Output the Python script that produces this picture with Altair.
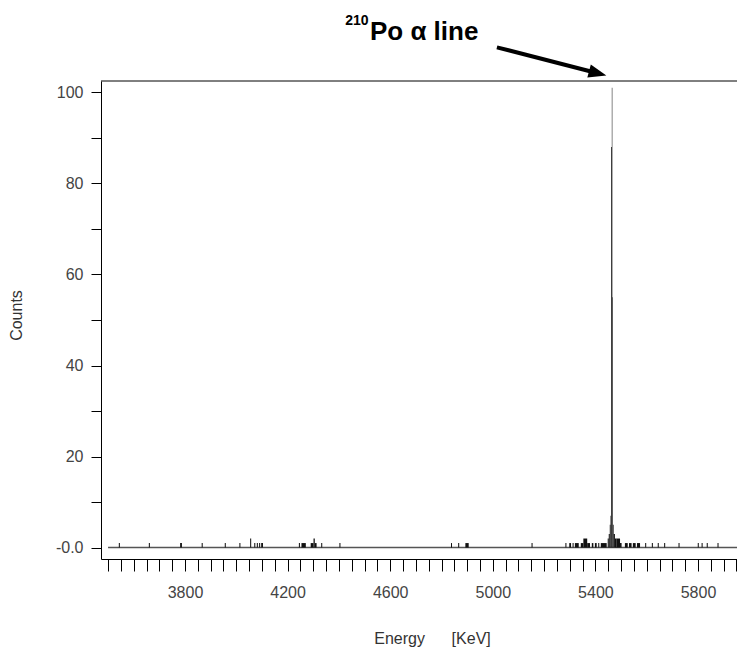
import altair as alt
import pandas as pd

# ---- spectrum: non-empty histogram bins (energy in keV) ----
bin_lo = [3542, 3659, 3781, 3865, 3955, 4012, 4054, 4070, 4080, 4089, 4097,
          4244, 4254, 4290, 4301, 4306, 4331, 4402,
          4837, 4865, 4893, 5151,
          5283, 5298, 5311, 5320, 5343, 5353, 5368, 5386, 5398, 5411, 5421,
          5448, 5452, 5456, 5459, 5461, 5464, 5466, 5468, 5471, 5476, 5483, 5496,
          5515, 5531, 5546, 5562,
          5594, 5620, 5643, 5668, 5724, 5799, 5814, 5834, 5876]
bin_hi = [3546, 3663, 3788, 3869, 3959, 4016, 4058, 4074, 4084, 4093, 4104,
          4248, 4271, 4301, 4306, 4313, 4335, 4406,
          4841, 4869, 4906, 5155,
          5287, 5305, 5315, 5335, 5353, 5368, 5379, 5392, 5405, 5415, 5444,
          5452, 5456, 5459, 5461, 5464, 5466, 5468, 5471, 5476, 5483, 5496, 5502,
          5526, 5541, 5557, 5574,
          5598, 5624, 5647, 5672, 5728, 5803, 5818, 5838, 5880]
counts = [1, 1, 1, 1, 1, 1, 2, 1, 1, 1, 1,
          1, 1, 1, 2, 1, 1, 1,
          1, 1, 1, 1,
          1, 1, 1, 1, 1, 2, 1, 1, 1, 1, 1,
          2, 3, 5, 7, 88, 101, 55, 5, 3, 2, 2, 1,
          1, 1, 1, 1,
          1, 1, 1, 1, 1, 1, 1, 1, 1]

spectrum_start = [3500]
spectrum_end = [6000]

x_ticks = list(range(3500, 5951, 50))
x_labels = [3800, 4200, 4600, 5000, 5400, 5800]
y_ticks = list(range(0, 101, 10))
y_labels = [20, 40, 60, 80, 100]

x_domain = [3472.5, 5952]
y_domain = [-2.5, 102.5]

# annotation (arrow + label) in data coordinates
arrow_start = [5016, 109.9]
arrow_head = [5409, 104.2]
label_pos = [4521, 111.4]
sup_pos = [4516, 114.8]

W, H = 636, 478

LABEL_FONT = "Liberation Sans"
TITLE_FONT = "Liberation Sans"

df = pd.DataFrame({"lo": bin_lo, "hi": bin_hi, "count": counts})
base_df = pd.DataFrame({"start": spectrum_start, "end": spectrum_end, "zero": [0]})
ann_df = pd.DataFrame({
    "x1": [arrow_start[0]], "y1": [arrow_start[1]],
    "x2": [arrow_head[0]], "y2": [arrow_head[1]],
    "lx": [label_pos[0]], "ly": [label_pos[1]],
    "sx": [sup_pos[0]], "sy": [sup_pos[1]],
})

xs = alt.Scale(domain=x_domain, nice=False, zero=False)
ys = alt.Scale(domain=y_domain, nice=False, zero=False)

x_lab_expr = "indexof([" + ",".join(str(v) for v in x_labels) + "], datum.value) >= 0 ? format(datum.value, 'd') : ''"
y_lab_expr = ("datum.value == 0 ? '-0.0' : (indexof([" + ",".join(str(v) for v in y_labels)
              + "], datum.value) >= 0 ? format(datum.value, 'd') : '')")

NB = "\u00a0"
xaxis = alt.Axis(values=x_ticks, labelExpr=x_lab_expr, tickSize=12, tickColor="black",
                 domainColor="black", labelFont=LABEL_FONT, labelFontSize=16,
                 labelColor="#444", labelPadding=13, labelFlush=False, labelOverlap=False,
                 grid=False, title="Energy" + NB * 6 + "[KeV]", titleX=331, titleY=84,
                 titleBaseline="alphabetic", titleAlign="center", titleFont=TITLE_FONT,
                 titleFontSize=16, titleFontWeight="normal", titleColor="#333")
yaxis = alt.Axis(values=y_ticks, labelExpr=y_lab_expr, tickSize=10, tickColor="black",
                 domainColor="black", labelFont=LABEL_FONT, labelFontSize=16,
                 labelColor="#444", labelPadding=8, labelFlush=False, labelOverlap=False,
                 grid=False, title="Counts", titleX=-80, titleY=234, titleAngle=270,
                 titleBaseline="alphabetic", titleAlign="center", titleFont=TITLE_FONT,
                 titleFontSize=16, titleFontWeight="normal", titleColor="#333")

baseline = alt.Chart(base_df).mark_rule(color="#555", strokeWidth=1.5, clip=True).encode(
    x=alt.X("start:Q", scale=xs, axis=xaxis),
    x2="end:Q",
    y=alt.Y("zero:Q", scale=ys, axis=yaxis),
)

bars = alt.Chart(df).mark_rect(color="#111").encode(
    x=alt.X("lo:Q", scale=xs, axis=xaxis),
    x2="hi:Q",
    y=alt.Y("count:Q", scale=ys, axis=yaxis),
    y2=alt.Y2Datum(0),
)

frame_top = alt.Chart(base_df).mark_rule(color="black", strokeWidth=1).encode(
    x=alt.value(0), x2=alt.value(W), y=alt.value(0)
)

shaft = alt.Chart(ann_df).mark_rule(color="black", strokeWidth=4).encode(
    x=alt.X("x1:Q", scale=xs, axis=xaxis), x2="x2:Q",
    y=alt.Y("y1:Q", scale=ys, axis=yaxis), y2="y2:Q",
)

head = alt.Chart(ann_df).mark_point(
    shape="M -1 -0.75 L 1 0 L -1 0.75 Z", filled=True, color="black",
    size=320, angle=15, opacity=1, strokeWidth=0,
).encode(
    x=alt.X("x2:Q", scale=xs, axis=xaxis),
    y=alt.Y("y2:Q", scale=ys, axis=yaxis),
)

label = alt.Chart(ann_df).mark_text(
    text="Po \u03b1 line", align="left", baseline="alphabetic",
    font="Liberation Sans", fontSize=26, fontWeight="bold", color="black",
).encode(
    x=alt.X("lx:Q", scale=xs, axis=xaxis),
    y=alt.Y("ly:Q", scale=ys, axis=yaxis),
)

sup = alt.Chart(ann_df).mark_text(
    text="210", align="right", baseline="alphabetic",
    font="Liberation Sans", fontSize=14, fontWeight="bold", color="black",
).encode(
    x=alt.X("sx:Q", scale=xs, axis=xaxis),
    y=alt.Y("sy:Q", scale=ys, axis=yaxis),
)

chart = alt.layer(baseline, bars, frame_top, shaft, head, label, sup).properties(
    width=W, height=H,
    padding={"left": 93, "top": 73, "right": 0, "bottom": 90},
    autosize=alt.AutoSizeParams(type="none"),
    background="white",
).configure_view(stroke=None)

chart.save("out.html", embed_options={"renderer": "svg", "actions": False})
